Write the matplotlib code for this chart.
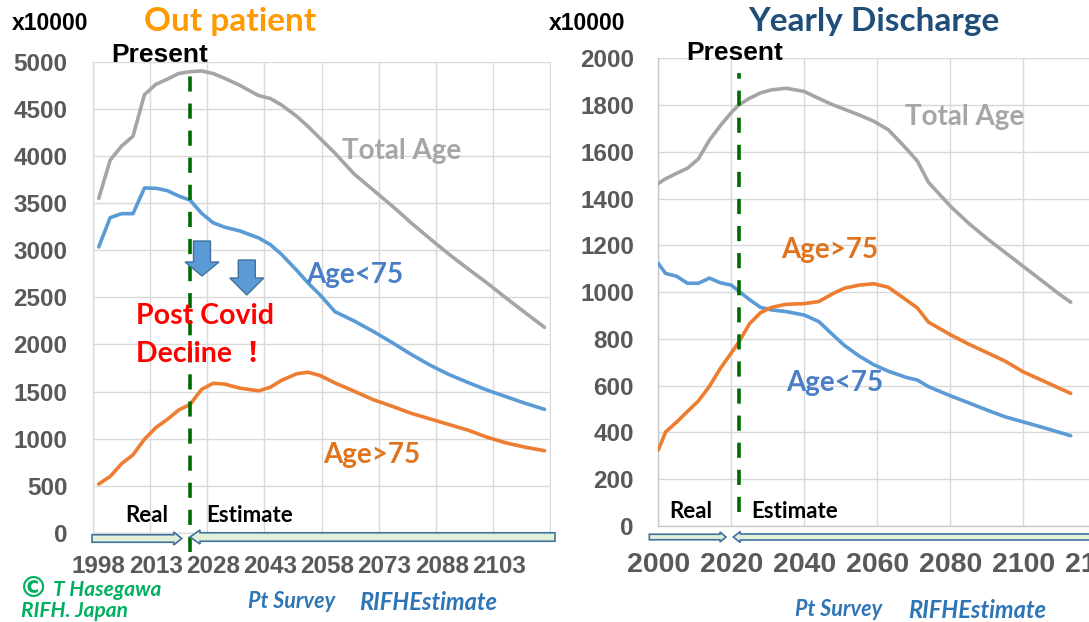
import matplotlib
matplotlib.use("Agg")
import matplotlib.pyplot as plt
from matplotlib.patches import FancyArrow

# ---- Out patient (x10000) ----
op_years = [1998, 2001, 2004, 2007, 2010, 2013, 2016, 2019, 2022, 2025, 2028, 2031,
            2035, 2040, 2043, 2046, 2050, 2053, 2056, 2060, 2065, 2070, 2075, 2080,
            2085, 2090, 2095, 2100, 2105, 2110, 2115]
op_total = [3550, 3955, 4105, 4210, 4650, 4760, 4815, 4875, 4894, 4902, 4875, 4825,
            4750, 4640, 4610, 4540, 4420, 4310, 4190, 4030, 3810, 3640, 3470, 3290,
            3120, 2955, 2800, 2650, 2490, 2335, 2182]
op_under75 = [3035, 3345, 3388, 3388, 3660, 3657, 3632, 3575, 3530, 3392, 3292, 3245,
              3205, 3130, 3060, 2955, 2785, 2650, 2530, 2348, 2250, 2140, 2020, 1895,
              1780, 1680, 1595, 1515, 1445, 1375, 1312]
op_over75 = [520, 600, 735, 830, 995, 1118, 1205, 1305, 1365, 1524, 1588, 1580,
             1537, 1508, 1546, 1620, 1690, 1705, 1672, 1592, 1505, 1415, 1345, 1270,
             1210, 1150, 1090, 1015, 955, 910, 873]
op_tick_years = [1998, 2013, 2028, 2043, 2058, 2073, 2088, 2103]
op_yticks = list(range(0, 5001, 500))

# ---- Yearly discharge (x10000) ----
dc_years = [2000, 2002, 2005, 2008, 2011, 2014, 2017, 2020, 2022, 2025, 2028, 2031,
            2035, 2040, 2044, 2048, 2051, 2055, 2059, 2063, 2068, 2071, 2074, 2080,
            2085, 2090, 2095, 2100, 2105, 2110, 2113]
dc_total = [1465, 1485, 1508, 1530, 1570, 1650, 1712, 1768, 1800, 1829, 1852, 1865,
            1872, 1858, 1828, 1800, 1782, 1758, 1731, 1695, 1613, 1560, 1470, 1368,
            1295, 1230, 1170, 1110, 1050, 990, 957]
dc_under75 = [1123, 1080, 1068, 1038, 1038, 1060, 1040, 1030, 1005, 968, 935, 924,
              917, 902, 874, 815, 772, 727, 690, 662, 635, 624, 596, 557,
              527, 496, 467, 445, 423, 400, 386]
dc_over75 = [325, 402, 444, 490, 535, 597, 674, 740, 785, 865, 912, 935,
             948, 951, 960, 995, 1017, 1030, 1036, 1021, 966, 932, 872, 818,
             778, 742, 705, 659, 624, 588, 567]
dc_tick_years = [2000, 2020, 2040, 2060, 2080, 2100, 2120]
dc_yticks = list(range(0, 2001, 200))

present_year = 2022

GRAY, BLUE, ORANGE = "#A5A5A5", "#5B9BD5", "#ED7D31"
GRID = "#D9D9D9"
TICK = "#595959"
CAL = ["Lato", "DejaVu Sans"]
ARIAL = ["Liberation Sans", "DejaVu Sans"]

plt.rcParams["font.family"] = ARIAL
plt.rcParams["font.weight"] = "bold"

W, H = 1089, 622
fig = plt.figure(figsize=(W / 100, H / 100), dpi=100)


def box(l, t, r, b):
    return [l / W, 1 - b / H, (r - l) / W, (b - t) / H]


ax1 = fig.add_axes(box(93, 61.7, 551, 533))
ax2 = fig.add_axes(box(658.3, 58.3, 658.3 + 125 * 3.65, 526))

for ax, yrs, series in [(ax1, op_years, (op_total, op_under75, op_over75)),
                        (ax2, dc_years, (dc_total, dc_under75, dc_over75))]:
    for vals, col in zip(series, (GRAY, BLUE, ORANGE)):
        ax.plot(yrs, vals, color=col, lw=2.6, solid_capstyle="round", zorder=3)
    for s in ("top", "right"):
        ax.spines[s].set_visible(False)
    for s in ("left", "bottom"):
        ax.spines[s].set_color(GRID)
        ax.spines[s].set_linewidth(1)
    ax.set_facecolor("none")

# left chart axes
ax1.set_xlim(1996.5, 2116.7)
ax1.set_ylim(0, 5000)
ax1.set_yticks(op_yticks)
ax1.set_xticks(op_tick_years)
ax1.set_xticks([1996.5 + 15 * k for k in range(9)], minor=True)
ax1.grid(which="minor", axis="x", color=GRID, lw=1)
ax1.grid(which="major", axis="y", color=GRID, lw=1)
ax1.tick_params(which="both", length=0)
ax1.tick_params(axis="y", labelsize=17.5, labelcolor=TICK, pad=18.5)
ax1.tick_params(axis="x", labelsize=17.5, labelcolor=TICK, pad=16)

# right chart axes
ax2.set_xlim(2000, 2125)
ax2.set_ylim(0, 2000)
ax2.set_yticks(dc_yticks)
ax2.set_xticks(dc_tick_years)
ax2.grid(True, color=GRID, lw=1)
ax2.tick_params(length=0)
ax2.tick_params(axis="y", labelsize=17.5, labelcolor=TICK, pad=17.5)
ax2.tick_params(axis="x", labelsize=20.5, labelcolor=TICK, pad=19)
ax2.spines["left"].set_color("#C8C8C8")
ax2.spines["bottom"].set_color("#C8C8C8")

# present lines
ax1.plot([present_year, present_year], [-200, 4960], color="#006A00", lw=2.6,
         dashes=(4.2, 3.3), clip_on=False, zorder=4)
ax2.plot([present_year, present_year], [60, 1937], color="#006A00", lw=2.6,
         dashes=(4.2, 3.3), clip_on=False, zorder=4)

# overlay for annotations in pixel coordinates
ov = fig.add_axes([0, 0, 1, 1])
ov.set_xlim(0, W)
ov.set_ylim(H, 0)
ov.axis("off")
ov.set_facecolor("none")


def txt(x, y, s, size, color="black", family=CAL, ha="center", style="normal"):
    ov.text(x, y, s, fontsize=size, color=color, family=family, ha=ha,
            va="center", fontweight="bold", fontstyle=style)


txt(50, 23, "x10000", 16.5, family=ARIAL)
txt(587.5, 23, "x10000", 16.5, family=ARIAL)
txt(230, 21, "Out patient", 24, color="#FF9900")
txt(874, 22, "Yearly Discharge", 24, color="#1F4E79")
txt(160, 55, "Present", 19, family=ARIAL)
txt(735, 53, "Present", 19, family=ARIAL)

txt(401.6, 151, "Total Age", 20, color="#A6A6A6")
txt(355, 275, "Age<75", 20, color="#4A7EC7")
txt(372, 455, "Age>75", 20, color="#DF741F")
txt(135.7, 316, "Post Covid", 20.5, color="#FF0000", ha="left")
txt(135.7, 354, "Decline ！", 20.5, color="#FF0000", ha="left",
    family=["Lato", "Noto Sans CJK JP"])
txt(146.7, 515, "Real", 16)
txt(250, 515, "Estimate", 16)

txt(965, 117, "Total Age", 20, color="#A6A6A6")
txt(829.5, 250, "Age>75", 20, color="#DF741F")
txt(834.5, 383, "Age<75", 20, color="#4A7EC7")
txt(691, 512, "Real", 16)
txt(795, 512, "Estimate", 16)

txt(19, 589, "©", 21, color="#00B060", ha="left", family=["DejaVu Sans"])
txt(53, 590, "T Hasegawa", 15, color="#00B060", ha="left", style="italic")
txt(21, 611, "RIFH. Japan", 15, color="#00B060", ha="left", style="italic")
txt(248, 602, "Pt Survey", 15.5, color="#2E75B6", ha="left", style="italic")
txt(359, 602, "RIFHEstimate", 17, color="#2E75B6", ha="left", style="italic")
txt(795, 610, "Pt Survey", 15.5, color="#2E75B6", ha="left", style="italic")
txt(907.6, 610, "RIFHEstimate", 17, color="#2E75B6", ha="left", style="italic")

# blue down arrows
for xc, top, hl in [(202, 241, 14), (246.8, 260, 17)]:
    ov.add_patch(FancyArrow(xc, top, 0, 35, width=17, head_width=34, head_length=hl,
                            length_includes_head=True, fc=BLUE, ec="#41719C", lw=1))

# real / estimate arrows
arrow_kw = dict(length_includes_head=True, fc="#E2F0D9", ec="#41719C", lw=1.2)
ov.add_patch(FancyArrow(92, 538.5, 89.7, 0, width=7.5, head_width=13, head_length=8, **arrow_kw))
ov.add_patch(FancyArrow(555, 537, -365, 0, width=8.5, head_width=14, head_length=10, **arrow_kw))
ov.add_patch(FancyArrow(649.3, 537, 76.7, 0, width=5.5, head_width=10, head_length=6, **arrow_kw))
ov.add_patch(FancyArrow(1100, 537, -366.7, 0, width=6, head_width=11, head_length=7, **arrow_kw))

fig.savefig("out.png", dpi=100)
